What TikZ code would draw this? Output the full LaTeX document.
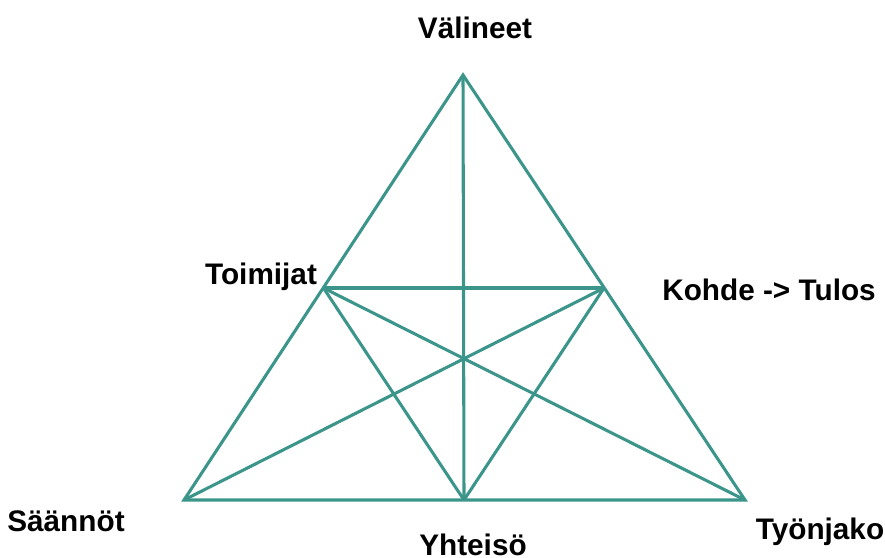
\documentclass[tikz,border=0pt]{standalone}
\usepackage{fontspec}
\setmainfont{Liberation Sans}
\usepackage{xcolor}
\usepackage{tikz}
\usetikzlibrary{positioning}
\definecolor{actteal}{HTML}{3B958B}
\tikzset{
  lblnode/.style={inner sep=0pt,font=\fontsize{22.3}{26}\selectfont\bfseries,text=black},
  actedge/.style={actteal,line width=2.3pt,line join=miter},
}
\begin{document}
\begin{tikzpicture}[x=0.75pt,y=-0.75pt]
  \useasboundingbox (0,0) rectangle (885,557);
  \coordinate (vTop) at (463,75);
  \coordinate (vLeft) at (184,500);
  \coordinate (vRight) at (745,500);
  \coordinate (vMidL) at (323.5,288);
  \coordinate (vMidR) at (604,288);
  \coordinate (vMidB) at (464,500);
  \node[lblnode] (nValineet) at (475,28) {Välineet};
  \node[lblnode] (nToimijat) at (261,277) {Toimijat};
  \node[lblnode] (nKohde) at (769,290) {Kohde -> Tulos};
  \node[lblnode] (nSaannot) at (66,521) {Säännöt};
  \node[lblnode] (nYhteiso) at (473,545) {Yhteisö};
  \node[lblnode] (nTyonjako) at (820,532) {Työnjako};
  \draw[actedge] (vTop) -- (vLeft) -- (vRight) -- cycle;
  \draw[actedge] (vTop) -- (vMidB);
  \draw[actedge] (vMidL) -- (vMidR);
  \draw[actedge] (vMidL) -- (vMidB);
  \draw[actedge] (vMidR) -- (vMidB);
  \draw[actedge] (vMidL) -- (vRight);
  \draw[actedge] (vMidR) -- (vLeft);
\end{tikzpicture}
\end{document}
